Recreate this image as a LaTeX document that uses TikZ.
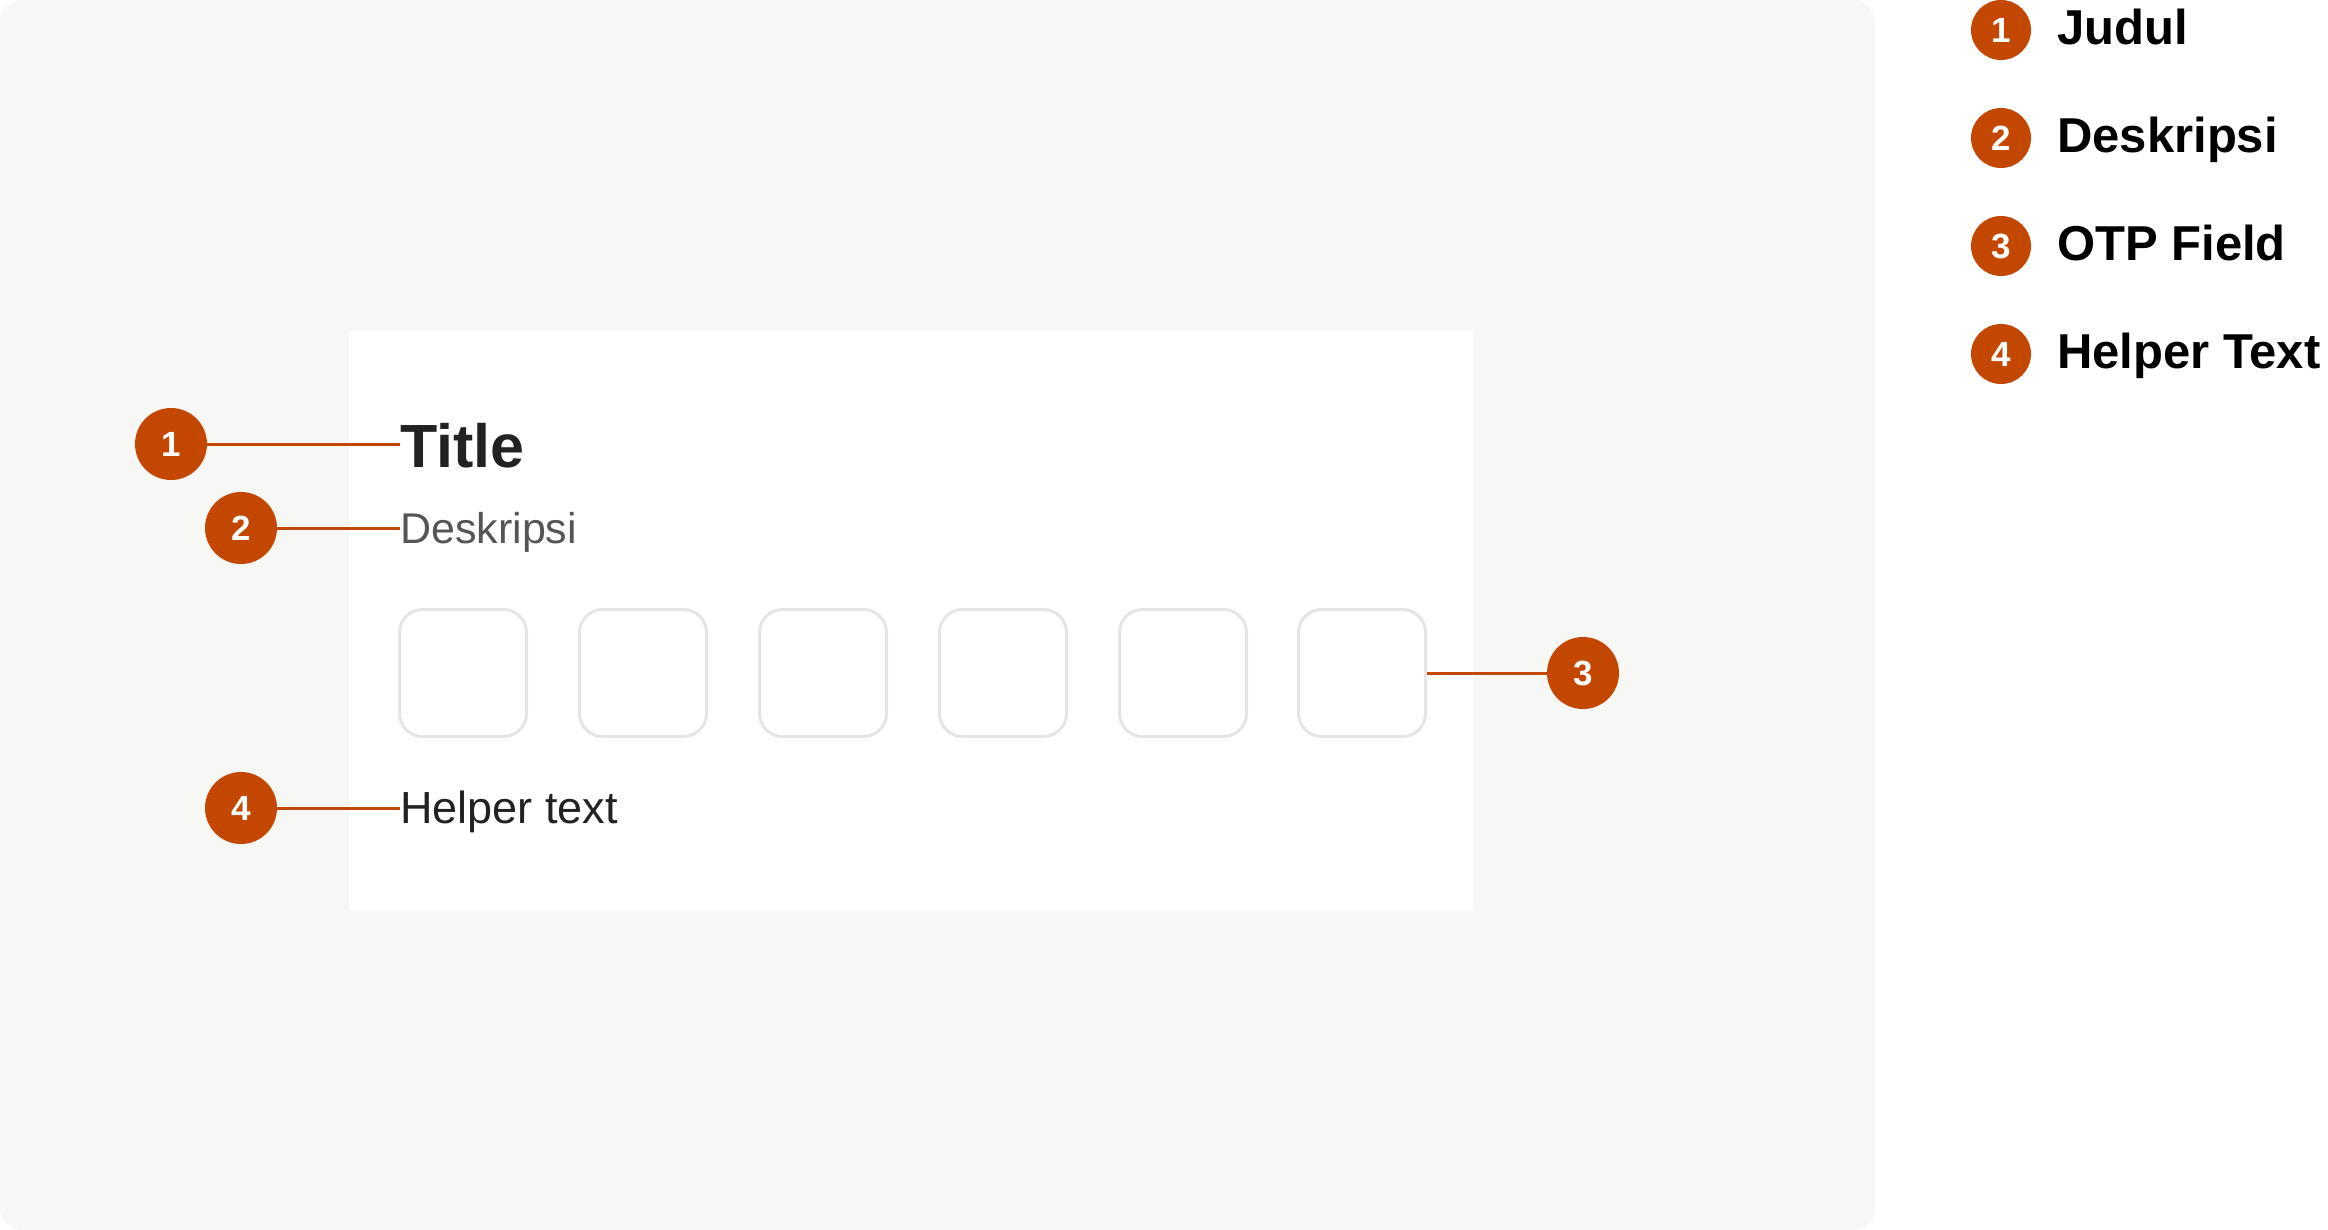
\documentclass[tikz,border=0pt]{standalone}
\usepackage{fontspec}
\setmainfont{Liberation Sans}
\definecolor{panel}{HTML}{F7F7F5}
\definecolor{accent}{HTML}{C44700}
\definecolor{boxline}{HTML}{E5E5E5}
\definecolor{titlecol}{HTML}{222222}
\definecolor{desccol}{HTML}{555555}
\begin{document}
\begin{tikzpicture}[x=1pt,y=-1pt,
  badge/.style={circle,fill=accent,text=white,inner sep=0pt,minimum size=72pt,font=\fontsize{35}{35}\selectfont\bfseries},
  lbadge/.style={circle,fill=accent,text=white,inner sep=0pt,minimum size=60pt,font=\fontsize{35}{35}\selectfont\bfseries},
  legtext/.style={anchor=base west,inner sep=0pt,font=\fontsize{49}{49}\selectfont\bfseries,text=black},
  otpbox/.style={draw=boxline,line width=3pt,fill=white,rounded corners=23pt,minimum width=127pt,minimum height=127pt,inner sep=0pt},
  leader/.style={draw=accent,line width=3pt},
  ctext/.style={anchor=base west,inner sep=0pt}]
\useasboundingbox (0,0) rectangle (2328,1230);
\fill[panel,rounded corners=22pt] (0,0) rectangle (1875,1230);
\fill[white] (349,331) rectangle (1474,910);
% texts
\node[ctext,font=\fontsize{61}{61}\selectfont\bfseries,text=titlecol] (title) at (400,467) {Title};
\node[ctext,font=\fontsize{43}{43}\selectfont,text=desccol] (desc) at (400,543) {Deskripsi};
\node[ctext,font=\fontsize{45}{45}\selectfont,text=titlecol] (helper) at (400,823) {Helper text};
% otp boxes
\foreach \i/\x in {1/463,2/643,3/823,4/1003,5/1183,6/1362}{
  \node[otpbox] (b\i) at (\x,673) {};
}
% badges
\node[badge] (c1) at (171,444) {1};
\node[badge] (c2) at (241,528) {2};
\node[badge] (c3) at (1583,673) {3};
\node[badge] (c4) at (241,808) {4};
\draw[leader] (c1.east) -- (c1.east -| title.west);
\draw[leader] (c2.east) -- (c2.east -| desc.west);
\draw[leader] (b6.east) -- (c3.west);
\draw[leader] (c4.east) -- (c4.east -| helper.west);
% legend
\node[lbadge] (l1) at (2001,30) {1};
\node[lbadge] (l2) at (2001,138) {2};
\node[lbadge] (l3) at (2001,246) {3};
\node[lbadge] (l4) at (2001,354) {4};
\node[legtext] (t1) at (2057,45) {Judul};
\node[legtext] (t2) at (2057,153) {Deskripsi};
\node[legtext] (t3) at (2057,261) {OTP Field};
\node[legtext] (t4) at (2057,369) {Helper Text};
\end{tikzpicture}
\end{document}
